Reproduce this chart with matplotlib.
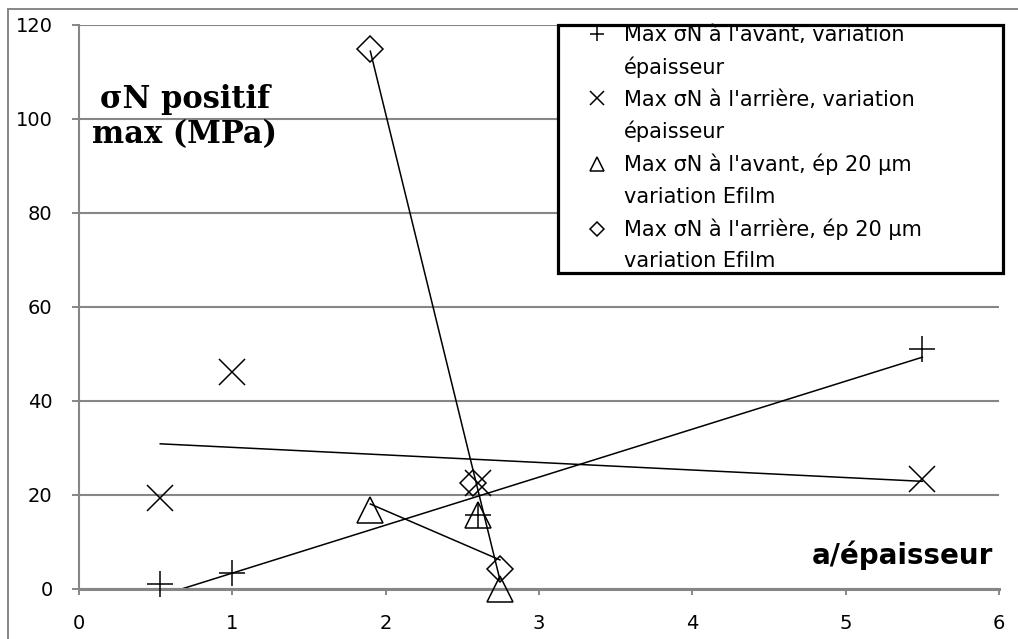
import numpy as np
import matplotlib
matplotlib.use("Agg")
import matplotlib.pyplot as plt
from matplotlib.lines import Line2D
from matplotlib.patches import Rectangle

# données
x_avant = [0.53, 1.0, 2.6, 5.5]
y_avant = [1.0, 3.3, 15.7, 51.0]
x_arriere = [0.53, 1.0, 2.6, 5.5]
y_arriere = [19.3, 46.2, 22.5, 23.5]
x_avant_ef = [1.9, 2.6, 2.745]
y_avant_ef = [16.8, 15.7, 0.0]
x_arriere_ef = [1.9, 2.57, 2.745]
y_arriere_ef = [115.0, 22.5, 4.2]

labels = [
    ("Max σN à l'avant, variation", "épaisseur"),
    ("Max σN à l'arrière, variation", "épaisseur"),
    ("Max σN à l'avant, ép 20 µm", "variation Efilm"),
    ("Max σN à l'arrière, ép 20 µm", "variation Efilm"),
]
markers = ["+", "x", "^", "D"]
sizes = [19, 19, 19, 13]

grey = "#868686"
plt.rcParams["font.family"] = "DejaVu Sans"

W, H = 1018, 639
fig = plt.figure(figsize=(W / 100, H / 100), dpi=100)
ax = fig.add_axes([79 / W, 1 - 589 / H, 920 / W, 564 / H])

series = [(x_avant, y_avant), (x_arriere, y_arriere),
          (x_avant_ef, y_avant_ef), (x_arriere_ef, y_arriere_ef)]

for (xs, ys), m, s in zip(series, markers, sizes):
    ax.plot(xs, ys, linestyle="none", marker=m, ms=s, mfc="none", mec="black",
            mew=1.1, clip_on=False, zorder=3)
    # courbe de tendance linéaire
    a, b = np.polyfit(xs, ys, 1)
    xt = np.array([min(xs), max(xs)])
    ax.plot(xt, a * xt + b, color="black", lw=1.1, zorder=2)

ax.set_xlim(0, 6)
ax.set_ylim(0, 120)
ax.set_xticks(range(0, 7))
ax.set_yticks(range(0, 121, 20))
ax.yaxis.grid(True, color=grey, lw=1.5)
ax.set_axisbelow(True)
for side in ["top", "right"]:
    ax.spines[side].set_visible(False)
ax.spines["left"].set_color(grey)
ax.spines["left"].set_linewidth(1.5)
ax.spines["bottom"].set_color(grey)
ax.spines["bottom"].set_linewidth(2.2)
ax.tick_params(axis="x", length=4, width=1.4, color=grey, pad=14, labelsize=14)
ax.tick_params(axis="y", length=5, width=1.4, color=grey, pad=14, labelsize=14)

# titres des axes
fig.text(185 / W, 1 - 117 / H, "σN positif\nmax (MPa)", ha="center", va="center",
         family="DejaVu Serif", weight="bold", fontsize=22, linespacing=1.15)
fig.text(993 / W, 1 - 555 / H, "a/épaisseur", ha="right", va="center",
         weight="bold", fontsize=20)

# légende
box = Rectangle((558 / W, 1 - 273 / H), 445 / W, 248 / H, transform=fig.transFigure,
                facecolor="white", edgecolor="black", lw=2.3, zorder=4, clip_on=False)
ax.add_patch(box)
handles, texts = [], []
for (l1, l2), m in zip(labels, markers):
    handles.append(Line2D([], [], linestyle="none", marker=m, ms=10 if m != "D" else 7,
                          mfc="none", mec="black", mew=1.1))
    texts.append(l1)
    handles.append(Line2D([], [], linestyle="none"))
    texts.append(l2)
leg = ax.legend(handles, texts, loc="upper left", bbox_to_anchor=(580 / W, 1 - 23 / H),
                bbox_transform=fig.transFigure, frameon=False, fontsize=15,
                borderaxespad=0, borderpad=0.1, handlelength=1.4, handletextpad=0.6,
                labelspacing=0.55)
leg.set_zorder(5)

# cadre du graphique
fig.patches.append(Rectangle((8 / W, -0.1), 1.2, 1 - 9 / H + 0.1, transform=fig.transFigure,
                             facecolor="none", edgecolor=grey, lw=1.4))

fig.savefig("out.png", dpi=100)
